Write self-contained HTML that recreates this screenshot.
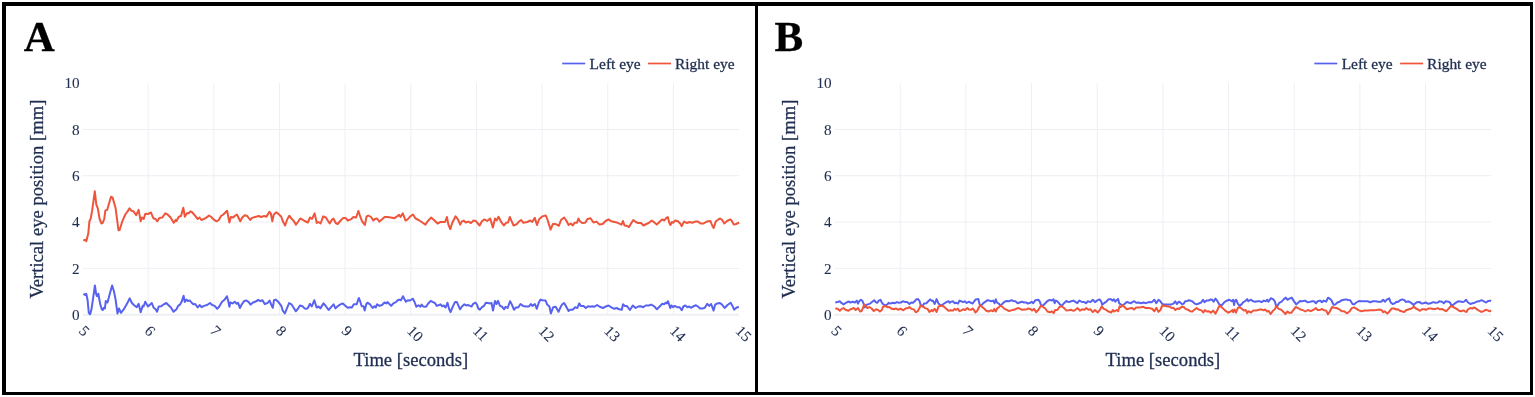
<!DOCTYPE html>
<html><head><meta charset="utf-8"><title>Vertical eye position</title>
<style>
html,body{margin:0;padding:0;background:#fff;}
body{width:1535px;height:397px;overflow:hidden;position:relative;}
#w{position:absolute;left:0;top:0;width:1535px;height:397px;filter:blur(0.3px);}
svg{position:absolute;left:0;top:0;font-family:'Liberation Serif','Times New Roman',serif;}
text{stroke:#1f2d50;stroke-width:0.3px;}
.t text{stroke-width:0.1px;}
.L{stroke:#000;stroke-width:0.3px;}
.b{position:absolute;background:#000;}
</style></head><body>
<div id="w">
<svg width="1535" height="397" viewBox="0 0 1535 397">
<g stroke="#EDEFF3" stroke-width="1"><line x1="148.16" y1="83.10" x2="148.16" y2="314.70"/><line x1="213.82" y1="83.10" x2="213.82" y2="314.70"/><line x1="279.48" y1="83.10" x2="279.48" y2="314.70"/><line x1="345.14" y1="83.10" x2="345.14" y2="314.70"/><line x1="410.80" y1="83.10" x2="410.80" y2="314.70"/><line x1="476.46" y1="83.10" x2="476.46" y2="314.70"/><line x1="542.12" y1="83.10" x2="542.12" y2="314.70"/><line x1="607.78" y1="83.10" x2="607.78" y2="314.70"/><line x1="673.44" y1="83.10" x2="673.44" y2="314.70"/><line x1="82.50" y1="268.38" x2="739.10" y2="268.38"/><line x1="82.50" y1="222.06" x2="739.10" y2="222.06"/><line x1="82.50" y1="175.74" x2="739.10" y2="175.74"/><line x1="82.50" y1="129.42" x2="739.10" y2="129.42"/></g>
<line x1="82.50" y1="314.70" x2="739.10" y2="314.70" stroke="#EDEFF3" stroke-width="2"/>
<path d="M83.5,293.7 L85.0,294.9 L86.3,293.9 L87.6,300.2 L88.8,312.8 L90.1,314.3 L91.3,310.3 L93.2,297.7 L94.9,285.4 L96.1,293.9 L97.0,296.2 L98.3,293.7 L100.2,304.0 L101.7,309.0 L102.7,310.0 L103.9,307.8 L104.9,308.4 L105.8,300.9 L107.5,302.5 L109.6,294.6 L112.1,285.4 L113.8,290.8 L115.5,299.0 L117.5,313.5 L119.0,308.4 L120.9,312.8 L123.5,309.7 L126.0,305.5 L127.9,302.1 L129.7,298.3 L131.9,303.0 L134.2,305.3 L136.7,307.2 L138.6,303.8 L140.7,312.2 L142.7,305.9 L143.6,306.5 L145.2,301.7 L148.0,306.5 L151.8,303.0 L153.7,307.8 L155.6,309.3 L157.1,311.6 L158.7,306.5 L161.2,306.3 L163.8,304.3 L166.3,303.0 L168.8,305.5 L170.7,307.2 L173.5,311.6 L176.5,309.3 L178.1,305.9 L180.0,304.6 L181.5,302.1 L183.6,295.8 L184.8,302.1 L186.3,299.6 L187.8,300.9 L189.9,300.5 L191.4,302.5 L193.3,304.3 L195.2,304.0 L197.7,307.5 L199.6,305.0 L201.7,307.2 L204.0,305.9 L207.1,305.0 L210.0,303.0 L212.2,305.0 L214.7,305.9 L217.2,308.8 L219.1,306.8 L221.9,302.1 L224.7,299.6 L226.9,296.2 L228.1,300.2 L229.4,306.8 L230.4,302.5 L232.7,303.4 L234.8,301.7 L236.7,303.8 L238.0,302.7 L239.9,308.0 L241.8,304.3 L244.3,300.9 L246.5,300.5 L248.7,302.1 L250.6,304.6 L253.1,302.5 L255.6,301.5 L258.4,300.0 L260.6,301.2 L262.5,300.2 L264.7,304.0 L267.6,303.0 L269.5,300.5 L271.5,305.3 L272.8,307.8 L274.0,300.2 L275.7,299.6 L277.6,301.2 L279.8,303.8 L281.3,305.9 L282.6,310.3 L284.9,313.5 L286.4,309.7 L289.1,303.0 L291.4,304.3 L293.3,307.2 L295.8,311.3 L297.7,309.0 L300.0,305.5 L302.5,306.3 L304.6,308.4 L306.8,308.8 L308.0,307.8 L310.0,303.8 L311.8,306.5 L314.3,300.2 L316.6,307.5 L318.5,306.5 L320.4,308.4 L323.5,303.4 L325.4,305.5 L328.6,310.0 L331.1,307.2 L333.6,304.3 L335.5,308.4 L337.4,306.5 L339.9,304.6 L342.8,303.4 L345.6,305.9 L347.8,307.8 L350.0,307.2 L351.9,307.5 L353.8,304.3 L356.6,304.3 L358.8,298.0 L360.0,300.9 L361.7,306.3 L363.5,306.3 L364.7,310.6 L366.3,304.0 L367.5,302.7 L370.0,304.3 L372.6,308.0 L374.4,306.3 L375.7,307.5 L377.0,304.3 L379.5,305.9 L382.0,305.0 L384.5,302.5 L386.2,303.4 L387.7,302.1 L389.6,304.3 L391.2,305.9 L393.3,303.4 L395.9,302.1 L397.7,300.2 L399.3,299.6 L400.9,300.2 L403.0,296.2 L404.7,299.6 L405.9,301.7 L407.8,300.2 L410.1,300.5 L412.9,298.7 L414.4,301.7 L416.4,306.8 L418.5,305.3 L420.4,306.8 L421.7,304.6 L423.2,306.5 L426.1,306.8 L428.0,303.8 L430.7,300.9 L433.0,302.1 L434.9,303.0 L436.8,305.9 L439.1,305.0 L440.6,304.3 L442.1,306.3 L443.7,305.5 L445.6,307.5 L447.5,302.7 L449.1,309.0 L450.6,312.2 L452.5,307.2 L455.0,302.1 L456.9,302.1 L460.1,309.3 L461.9,306.5 L464.4,304.3 L466.3,305.5 L467.8,305.0 L470.1,305.9 L471.6,306.5 L473.2,303.8 L475.4,302.5 L477.0,304.6 L478.3,308.4 L479.9,309.7 L482.0,307.2 L483.9,305.9 L485.8,302.7 L488.0,303.0 L490.2,303.4 L491.5,303.0 L493.0,310.6 L495.0,300.9 L496.5,304.0 L498.0,300.9 L500.0,305.9 L502.2,306.8 L504.1,309.3 L505.6,306.8 L507.6,308.0 L510.1,301.2 L511.9,304.6 L513.9,309.7 L516.0,307.5 L518.2,307.5 L520.5,304.0 L523.0,305.9 L526.1,306.5 L529.0,306.5 L530.8,304.0 L532.4,305.9 L534.9,304.0 L536.8,308.8 L538.7,302.7 L540.6,299.6 L542.5,300.2 L545.6,300.5 L547.2,304.6 L549.4,306.5 L550.9,313.5 L553.2,307.2 L555.7,306.8 L558.5,311.8 L560.7,306.8 L562.3,304.3 L564.1,303.0 L566.3,306.8 L568.6,310.9 L570.1,309.7 L572.6,309.7 L575.2,307.2 L577.4,308.0 L579.2,303.4 L580.8,305.9 L583.3,305.9 L585.9,308.0 L588.0,306.3 L590.3,306.8 L592.2,306.3 L594.0,306.8 L597.2,305.0 L599.7,306.8 L602.9,308.0 L605.1,306.8 L608.5,305.5 L611.0,307.2 L614.2,308.8 L616.7,308.0 L619.2,309.3 L621.8,309.7 L623.0,304.3 L624.9,305.9 L626.8,305.9 L629.9,310.0 L632.8,305.5 L635.6,308.0 L638.1,306.5 L640.6,306.3 L643.2,307.2 L645.7,305.5 L648.8,305.5 L651.3,304.6 L654.4,306.5 L656.9,309.3 L659.4,306.8 L662.3,303.8 L664.1,304.3 L665.7,302.7 L667.0,303.4 L667.9,301.2 L668.9,303.8 L670.2,308.0 L671.4,305.5 L672.9,307.2 L674.6,305.9 L677.1,307.2 L679.6,307.2 L681.7,310.3 L683.4,306.5 L685.3,305.5 L687.5,307.2 L689.3,306.5 L690.9,307.8 L693.5,306.3 L696.0,305.3 L697.9,306.5 L700.1,308.4 L702.9,308.4 L704.8,307.8 L707.3,303.8 L709.2,305.9 L711.1,304.0 L712.3,307.2 L713.6,310.6 L715.2,304.6 L717.4,303.4 L719.9,303.0 L721.8,304.3 L724.6,308.0 L727.5,305.0 L730.6,302.7 L732.5,305.9 L734.1,309.7 L736.3,307.8 L738.8,306.8" fill="none" stroke="#5862f0" stroke-width="2" stroke-linejoin="round"/>
<path d="M83.3,240.6 L85.3,239.7 L86.3,241.2 L88.3,233.3 L89.4,221.3 L90.6,219.0 L92.1,210.7 L94.8,191.3 L96.3,204.6 L97.8,208.4 L99.6,219.0 L101.5,223.5 L102.7,222.8 L104.2,219.0 L105.4,210.4 L107.2,209.9 L108.7,204.6 L111.0,196.8 L112.5,197.4 L115.5,207.7 L118.5,230.3 L119.6,230.0 L122.3,221.3 L125.3,214.5 L127.6,211.4 L129.5,208.4 L131.4,210.7 L133.6,211.4 L136.2,215.2 L138.6,209.9 L140.7,221.3 L141.9,217.5 L143.7,219.0 L145.3,213.7 L148.0,214.0 L151.0,212.5 L153.3,218.2 L155.5,219.0 L157.3,221.3 L159.3,217.9 L162.3,217.5 L165.3,213.4 L167.6,214.5 L170.6,217.5 L173.7,222.8 L175.9,219.7 L176.5,221.0 L178.8,216.7 L181.0,216.0 L183.3,207.7 L184.8,216.7 L187.1,213.0 L188.6,213.4 L190.4,211.4 L192.4,212.5 L194.6,215.2 L197.7,219.0 L199.5,217.5 L201.4,220.0 L203.7,219.0 L206.0,217.9 L209.0,215.5 L211.3,217.0 L213.5,219.4 L216.5,221.3 L218.8,220.0 L221.0,216.0 L223.3,214.5 L227.1,210.7 L229.4,222.5 L230.9,217.0 L233.2,217.5 L234.7,216.0 L236.9,214.5 L238.4,217.5 L240.3,221.3 L242.2,217.5 L244.8,215.2 L247.2,216.0 L250.2,220.0 L252.0,217.9 L255.1,217.0 L258.8,216.0 L261.1,217.0 L264.1,216.0 L266.4,216.7 L269.4,211.9 L270.9,213.7 L272.3,221.3 L273.8,214.5 L276.3,212.2 L279.1,214.5 L281.3,216.7 L282.8,221.3 L285.1,225.5 L287.4,219.0 L289.3,215.7 L291.1,218.2 L293.4,220.5 L296.0,224.6 L297.9,222.0 L300.2,218.5 L302.5,219.7 L304.7,221.0 L307.8,222.5 L310.0,217.5 L312.0,219.0 L314.6,213.4 L316.8,223.0 L318.3,222.0 L320.6,223.5 L323.2,216.4 L325.9,217.5 L328.2,221.3 L329.7,223.5 L331.9,219.7 L333.4,218.5 L335.7,223.0 L337.7,224.0 L340.2,221.0 L343.3,217.9 L345.5,217.9 L347.8,220.5 L350.8,219.4 L353.4,217.0 L356.1,217.5 L358.4,211.0 L360.3,216.7 L362.1,221.3 L364.9,225.0 L366.5,216.7 L368.3,215.5 L371.0,217.0 L373.3,220.5 L374.8,219.0 L377.1,218.5 L379.4,221.6 L381.9,219.4 L384.6,217.0 L387.7,217.0 L390.7,217.5 L394.5,218.2 L396.7,216.7 L399.0,214.9 L400.5,217.0 L402.8,213.4 L405.5,220.5 L407.6,219.4 L410.3,216.4 L413.0,214.5 L415.6,218.5 L418.6,220.0 L421.6,222.0 L425.4,224.6 L427.7,221.3 L431.2,217.5 L434.5,220.5 L437.5,223.5 L440.5,222.0 L445.1,222.0 L446.9,217.0 L448.4,224.6 L450.3,229.1 L452.3,222.8 L455.6,216.3 L457.9,219.4 L460.2,224.6 L461.8,221.6 L463.8,220.6 L465.7,222.5 L468.3,221.6 L470.9,223.0 L473.6,220.5 L475.9,221.0 L477.4,223.0 L479.6,225.5 L481.9,221.3 L484.5,219.4 L487.2,221.0 L490.2,218.5 L492.9,227.6 L495.0,218.5 L496.6,220.5 L498.5,216.7 L500.8,221.3 L503.8,225.5 L506.1,222.8 L508.0,222.5 L509.8,217.0 L511.7,221.3 L513.6,225.5 L516.6,224.3 L518.9,221.6 L521.2,220.0 L523.4,222.8 L527.2,222.0 L530.2,220.5 L532.2,222.0 L534.8,217.9 L537.0,225.0 L539.3,219.0 L542.3,216.4 L545.8,215.5 L547.6,220.0 L550.6,229.6 L552.9,224.0 L555.2,224.0 L556.8,224.6 L558.8,225.8 L561.0,220.0 L564.1,217.5 L566.3,220.5 L568.6,225.0 L570.9,223.5 L572.8,225.5 L574.6,222.8 L576.9,222.8 L578.4,218.5 L579.9,221.3 L582.2,223.0 L585.2,222.8 L587.5,219.0 L590.5,218.2 L593.5,222.5 L596.5,221.6 L599.6,224.6 L602.6,224.0 L605.6,221.0 L608.6,219.4 L611.2,221.3 L614.7,222.0 L617.7,222.8 L621.5,224.6 L623.0,221.0 L624.5,225.5 L626.8,225.8 L629.0,227.0 L630.8,224.0 L633.2,220.0 L635.8,222.0 L638.1,223.0 L641.1,223.0 L643.4,225.5 L646.4,224.0 L648.7,223.0 L651.7,220.5 L653.8,222.0 L656.8,224.6 L659.4,222.0 L662.1,219.4 L664.4,220.5 L666.3,217.9 L667.8,217.0 L669.3,222.8 L670.4,225.0 L671.9,222.0 L673.4,222.8 L674.9,220.5 L677.9,221.3 L680.2,223.5 L681.7,226.1 L684.0,221.6 L687.0,223.0 L689.6,222.0 L692.3,222.8 L695.3,221.6 L698.0,221.6 L700.6,223.5 L703.6,223.5 L705.9,222.0 L708.2,221.3 L710.4,221.0 L712.2,225.5 L713.7,228.0 L715.7,221.6 L718.0,219.7 L720.2,218.5 L722.2,220.0 L724.3,223.5 L727.0,221.0 L730.1,219.4 L731.6,220.5 L733.8,224.6 L736.1,224.0 L739.1,222.5" fill="none" stroke="#EF553B" stroke-width="2" stroke-linejoin="round"/>
<g class="t" font-size="15.2" fill="#1f2d50"><text x="79.60" y="320.00" text-anchor="end">0</text><text x="79.60" y="273.68" text-anchor="end">2</text><text x="79.60" y="227.36" text-anchor="end">4</text><text x="79.60" y="181.04" text-anchor="end">6</text><text x="79.60" y="134.72" text-anchor="end">8</text><text x="79.60" y="88.40" text-anchor="end">10</text><text transform="translate(81.80,328.00) rotate(45)" dy="0.35em">5</text><text transform="translate(147.46,328.00) rotate(45)" dy="0.35em">6</text><text transform="translate(213.12,328.00) rotate(45)" dy="0.35em">7</text><text transform="translate(278.78,328.00) rotate(45)" dy="0.35em">8</text><text transform="translate(344.44,328.00) rotate(45)" dy="0.35em">9</text><text transform="translate(410.10,328.00) rotate(45)" dy="0.35em">10</text><text transform="translate(475.76,328.00) rotate(45)" dy="0.35em">11</text><text transform="translate(541.42,328.00) rotate(45)" dy="0.35em">12</text><text transform="translate(607.08,328.00) rotate(45)" dy="0.35em">13</text><text transform="translate(672.74,328.00) rotate(45)" dy="0.35em">14</text><text transform="translate(738.40,328.00) rotate(45)" dy="0.35em">15</text></g>
<text transform="translate(43.00,199.10) rotate(-90)" text-anchor="middle" font-size="18.63" fill="#1f2d50">Vertical eye position [mm]</text>
<text x="410.80" y="366.30" text-anchor="middle" font-size="18.63" fill="#1f2d50">Time [seconds]</text>
<line x1="562.20" y1="63.5" x2="585.20" y2="63.5" stroke="#5862f0" stroke-width="1.7"/>
<line x1="648.00" y1="63.5" x2="671.00" y2="63.5" stroke="#EF553B" stroke-width="1.7"/>
<g font-size="15.45" fill="#1f2d50"><text x="589.60" y="69.4">Left eye</text><text x="675.00" y="69.4">Right eye</text></g>
<text x="23.70" y="50.9" font-size="43" font-weight="bold" fill="#000" class="L">A</text>
<g stroke="#EDEFF3" stroke-width="1"><line x1="900.26" y1="83.10" x2="900.26" y2="314.70"/><line x1="965.92" y1="83.10" x2="965.92" y2="314.70"/><line x1="1031.58" y1="83.10" x2="1031.58" y2="314.70"/><line x1="1097.24" y1="83.10" x2="1097.24" y2="314.70"/><line x1="1162.90" y1="83.10" x2="1162.90" y2="314.70"/><line x1="1228.56" y1="83.10" x2="1228.56" y2="314.70"/><line x1="1294.22" y1="83.10" x2="1294.22" y2="314.70"/><line x1="1359.88" y1="83.10" x2="1359.88" y2="314.70"/><line x1="1425.54" y1="83.10" x2="1425.54" y2="314.70"/><line x1="834.60" y1="268.38" x2="1491.20" y2="268.38"/><line x1="834.60" y1="222.06" x2="1491.20" y2="222.06"/><line x1="834.60" y1="175.74" x2="1491.20" y2="175.74"/><line x1="834.60" y1="129.42" x2="1491.20" y2="129.42"/></g>
<line x1="834.60" y1="314.70" x2="1491.20" y2="314.70" stroke="#EDEFF3" stroke-width="2"/>
<path d="M835.3,302.5 L837.6,302.1 L839.8,301.3 L841.7,303.2 L843.6,304.4 L845.9,302.8 L848.5,301.5 L850.4,302.5 L852.7,301.7 L854.9,302.5 L856.8,300.6 L858.0,303.6 L859.1,301.3 L861.0,299.8 L862.5,301.0 L863.6,304.0 L864.8,307.4 L866.3,304.7 L867.8,304.4 L870.1,303.6 L872.3,301.7 L874.2,300.2 L875.7,302.1 L877.2,302.8 L878.8,300.6 L880.5,299.8 L881.4,301.7 L882.5,303.6 L884.0,304.7 L885.6,305.5 L887.4,304.4 L888.6,302.8 L890.5,303.6 L892.7,302.8 L895.0,303.2 L896.9,302.1 L898.8,302.8 L900.7,302.5 L902.9,301.3 L904.8,301.9 L907.1,302.1 L909.4,304.0 L911.3,302.5 L913.1,302.8 L914.7,301.3 L916.2,299.4 L918.1,299.1 L919.6,301.3 L920.7,305.1 L922.2,306.3 L924.1,303.6 L926.4,303.2 L928.3,301.3 L930.2,299.4 L931.7,300.9 L932.8,300.6 L934.7,304.0 L936.6,299.1 L938.5,303.6 L940.7,305.5 L943.4,304.0 L946.3,302.2 L948.5,301.2 L949.7,302.8 L951.2,301.7 L953.1,301.3 L954.6,303.2 L956.5,302.8 L958.0,303.6 L959.5,300.6 L961.0,301.2 L962.9,302.1 L964.8,301.3 L966.7,303.0 L969.0,301.7 L970.8,302.8 L972.7,303.5 L974.2,301.3 L975.7,299.4 L978.4,299.1 L979.5,304.0 L981.0,305.9 L983.3,303.2 L985.2,301.9 L987.1,300.2 L989.4,300.6 L991.2,301.2 L993.1,300.6 L994.6,303.2 L995.8,299.4 L996.9,302.5 L998.8,303.6 L1000.3,305.5 L1002.2,304.0 L1004.5,301.7 L1006.7,301.0 L1009.0,301.3 L1011.3,300.2 L1013.5,301.0 L1015.4,301.2 L1017.7,303.2 L1019.6,302.5 L1021.9,301.7 L1024.1,302.5 L1026.4,302.5 L1027.9,303.6 L1030.2,302.8 L1031.7,301.7 L1033.2,303.2 L1035.5,300.2 L1038.5,299.8 L1040.0,302.1 L1041.1,305.5 L1043.0,305.5 L1045.3,303.2 L1047.5,301.0 L1049.8,299.8 L1051.7,300.6 L1053.6,299.4 L1054.7,303.2 L1055.9,300.6 L1057.4,301.3 L1059.9,304.4 L1061.8,305.9 L1064.0,303.2 L1066.3,301.0 L1068.6,302.1 L1071.2,301.3 L1073.5,300.6 L1075.4,301.9 L1077.3,303.2 L1079.2,300.6 L1081.4,301.7 L1083.7,301.9 L1086.0,303.2 L1087.9,301.3 L1090.5,302.1 L1092.8,299.7 L1095.0,302.1 L1097.3,300.4 L1099.6,299.4 L1101.1,301.3 L1102.2,304.7 L1104.1,303.2 L1106.4,301.7 L1108.3,299.4 L1110.9,299.1 L1112.4,300.6 L1113.9,299.4 L1115.4,301.7 L1116.6,300.2 L1118.1,298.9 L1119.2,303.2 L1120.7,304.4 L1122.6,305.1 L1124.5,304.0 L1126.8,301.9 L1129.1,302.8 L1130.9,303.2 L1132.8,301.9 L1134.3,301.3 L1136.2,302.8 L1138.5,302.5 L1141.1,303.2 L1143.4,302.5 L1146.1,303.2 L1148.7,302.1 L1151.7,302.2 L1154.4,299.8 L1156.3,303.2 L1158.5,299.7 L1160.4,301.3 L1162.3,304.0 L1163.8,304.4 L1167.6,304.4 L1171.4,304.4 L1173.5,303.6 L1175.2,301.3 L1176.9,304.0 L1178.8,301.7 L1180.3,302.5 L1182.2,304.4 L1183.7,303.6 L1185.2,301.3 L1187.1,301.0 L1189.0,300.2 L1190.5,300.6 L1192.4,301.5 L1194.7,303.6 L1196.6,304.4 L1198.8,303.5 L1201.1,302.5 L1203.0,299.8 L1204.5,302.1 L1206.4,300.6 L1208.7,300.6 L1210.5,299.4 L1212.1,299.7 L1213.6,301.7 L1215.5,298.5 L1217.4,301.2 L1219.6,304.7 L1221.5,305.5 L1223.8,302.8 L1226.0,301.0 L1229.4,299.7 L1231.7,301.3 L1233.2,299.8 L1234.1,305.0 L1234.7,301.7 L1236.2,299.7 L1237.8,303.6 L1239.6,305.9 L1241.5,304.4 L1243.4,302.1 L1245.3,301.0 L1247.2,299.1 L1248.3,301.3 L1250.6,299.7 L1253.3,301.3 L1255.1,301.7 L1257.8,301.2 L1260.1,301.3 L1261.6,302.1 L1263.8,300.6 L1265.7,301.2 L1267.2,299.8 L1268.4,301.7 L1271.0,298.2 L1273.3,299.4 L1274.8,301.3 L1275.9,305.1 L1277.4,305.9 L1279.3,302.8 L1281.6,301.7 L1283.9,299.1 L1285.8,297.6 L1287.5,299.8 L1289.4,298.7 L1291.7,297.6 L1293.6,300.6 L1296.2,304.4 L1298.1,302.8 L1300.0,301.0 L1302.3,301.3 L1304.9,300.6 L1307.5,302.2 L1309.8,301.9 L1312.1,301.2 L1314.0,301.3 L1315.9,303.2 L1317.7,301.3 L1320.0,300.6 L1321.9,302.1 L1323.8,300.6 L1326.1,301.7 L1328.0,297.7 L1329.8,298.7 L1331.4,300.2 L1333.6,304.7 L1335.5,304.4 L1337.4,302.5 L1339.7,301.7 L1341.9,300.2 L1343.8,299.8 L1346.1,299.4 L1348.0,300.0 L1350.2,300.2 L1352.5,304.0 L1354.0,304.4 L1356.3,302.5 L1358.9,301.0 L1361.6,301.3 L1364.6,301.3 L1367.6,301.3 L1370.3,302.2 L1372.9,301.3 L1375.6,301.3 L1378.2,301.7 L1381.2,301.7 L1383.1,299.8 L1385.0,301.7 L1386.5,299.8 L1389.2,298.3 L1390.7,302.5 L1392.6,304.0 L1394.8,303.2 L1396.4,301.7 L1397.9,302.1 L1400.1,300.2 L1402.3,299.4 L1404.5,300.2 L1406.0,302.1 L1407.9,301.3 L1410.2,302.2 L1412.1,303.6 L1413.6,305.0 L1415.1,303.5 L1417.0,302.2 L1419.7,301.9 L1421.5,303.6 L1423.4,303.2 L1425.7,302.5 L1428.3,303.8 L1430.6,303.2 L1433.3,302.1 L1435.5,302.7 L1437.8,302.5 L1439.3,301.3 L1442.0,301.7 L1443.8,303.2 L1445.7,301.3 L1448.4,301.7 L1449.9,302.5 L1451.4,305.0 L1452.9,305.1 L1455.2,303.2 L1458.2,301.3 L1460.5,301.5 L1462.7,302.1 L1464.6,301.3 L1466.1,299.8 L1468.0,302.5 L1470.3,304.0 L1472.6,303.2 L1474.8,302.8 L1476.3,301.7 L1479.0,301.3 L1481.6,300.2 L1483.9,301.3 L1485.8,302.5 L1487.7,301.3 L1489.9,300.6 L1491.1,301.2" fill="none" stroke="#5862f0" stroke-width="2" stroke-linejoin="round"/>
<path d="M835.3,308.5 L837.6,308.7 L839.8,310.8 L841.7,308.9 L843.6,308.1 L845.5,309.7 L848.5,310.8 L850.4,309.3 L852.3,308.7 L853.8,308.0 L855.7,310.0 L858.0,308.1 L860.2,311.5 L861.7,310.8 L863.3,307.0 L864.4,304.4 L865.9,306.3 L867.4,308.1 L869.3,307.0 L871.6,308.5 L873.8,311.0 L876.1,309.3 L878.0,310.0 L879.9,311.5 L881.8,310.0 L882.9,307.0 L885.2,305.9 L887.4,307.2 L889.3,307.0 L891.2,308.5 L893.5,309.3 L895.8,308.5 L898.0,309.7 L900.7,308.7 L903.3,310.3 L905.6,308.5 L907.9,308.1 L909.4,307.0 L911.6,308.9 L913.9,309.5 L915.8,312.3 L917.7,311.2 L919.6,307.8 L920.7,305.5 L923.0,306.6 L925.2,308.1 L927.5,308.9 L929.4,311.9 L931.7,310.0 L932.8,311.2 L934.7,308.9 L936.6,311.9 L938.5,306.6 L940.7,305.5 L943.4,306.3 L946.3,308.7 L948.5,310.8 L950.8,310.3 L953.1,310.6 L954.6,308.9 L956.1,309.8 L958.0,308.7 L959.5,311.2 L961.4,310.3 L963.3,309.3 L965.2,310.0 L967.4,308.1 L968.9,309.5 L970.8,309.8 L972.7,308.5 L974.2,310.3 L975.4,312.5 L977.3,310.8 L979.1,307.0 L980.3,305.1 L982.2,307.0 L984.1,308.5 L986.3,310.8 L988.6,311.5 L990.9,310.3 L993.1,311.2 L994.3,308.9 L995.8,311.5 L997.3,308.1 L998.8,307.5 L1000.3,305.5 L1002.2,306.6 L1004.5,308.9 L1006.7,309.8 L1009.0,311.0 L1011.3,310.4 L1013.5,309.8 L1015.4,309.3 L1017.7,308.0 L1019.6,308.5 L1021.9,309.8 L1024.1,309.5 L1026.4,309.5 L1027.9,308.5 L1030.2,308.9 L1032.1,310.4 L1034.0,308.9 L1036.2,312.3 L1038.5,309.8 L1040.0,307.2 L1041.1,305.5 L1043.0,307.0 L1045.3,308.5 L1047.5,311.5 L1049.8,312.3 L1051.7,311.3 L1053.6,313.1 L1055.1,310.0 L1057.4,310.0 L1059.1,307.4 L1061.4,306.0 L1063.7,307.8 L1066.3,310.4 L1068.6,310.3 L1071.2,309.8 L1073.5,310.8 L1075.4,309.8 L1077.7,308.1 L1079.9,310.6 L1082.2,309.3 L1084.5,309.8 L1086.3,308.1 L1088.6,309.8 L1090.5,309.3 L1092.8,312.1 L1095.0,310.0 L1097.7,312.5 L1099.6,310.4 L1101.8,306.3 L1103.7,308.9 L1105.6,309.5 L1107.9,311.3 L1111.3,312.5 L1112.8,310.0 L1114.3,311.5 L1116.6,310.0 L1118.1,311.3 L1119.6,306.3 L1121.1,307.0 L1122.6,305.1 L1124.5,307.0 L1126.8,309.3 L1129.4,308.5 L1132.1,308.0 L1134.0,309.5 L1136.2,307.5 L1138.9,307.4 L1141.1,307.2 L1143.4,306.8 L1145.7,308.1 L1148.7,308.1 L1152.1,308.7 L1154.4,311.2 L1156.3,307.8 L1158.5,311.9 L1160.4,310.0 L1162.3,305.5 L1165.3,305.9 L1169.9,306.8 L1172.0,308.1 L1173.5,307.8 L1175.4,310.0 L1177.3,308.5 L1179.2,308.9 L1181.8,306.8 L1183.7,307.0 L1185.6,308.9 L1187.9,309.7 L1190.1,311.2 L1192.4,311.5 L1194.3,309.8 L1196.6,308.1 L1199.2,309.7 L1201.5,310.4 L1203.4,312.5 L1204.9,310.0 L1206.8,311.5 L1208.7,311.2 L1210.9,312.7 L1213.2,310.6 L1215.5,313.6 L1217.4,310.0 L1219.6,305.5 L1221.9,307.4 L1224.9,310.4 L1228.3,312.7 L1230.6,311.5 L1232.5,310.0 L1233.2,312.3 L1234.4,309.5 L1235.9,312.7 L1237.8,308.1 L1239.3,307.0 L1241.5,308.5 L1243.8,310.4 L1245.7,310.0 L1247.2,313.1 L1248.3,311.2 L1251.0,312.5 L1253.3,310.6 L1255.9,310.6 L1258.2,310.0 L1261.2,309.3 L1263.5,310.3 L1265.0,309.5 L1267.2,311.5 L1268.8,311.0 L1270.6,314.0 L1272.9,310.8 L1274.8,309.3 L1276.3,306.0 L1278.6,308.9 L1281.2,309.8 L1283.5,311.9 L1285.4,314.0 L1287.5,311.5 L1289.0,312.7 L1291.3,312.8 L1293.6,309.7 L1295.8,307.0 L1298.1,308.1 L1300.4,309.5 L1302.6,310.0 L1305.3,311.5 L1307.9,310.0 L1310.6,311.2 L1313.2,310.0 L1315.9,308.1 L1317.7,310.0 L1320.0,310.0 L1321.9,308.9 L1323.8,310.3 L1326.1,310.4 L1328.0,314.2 L1329.8,311.5 L1332.1,307.0 L1334.4,307.8 L1336.6,308.0 L1339.3,309.3 L1341.6,311.2 L1344.2,311.2 L1346.8,313.3 L1349.5,311.5 L1351.8,308.1 L1354.0,307.4 L1356.7,308.9 L1358.9,310.4 L1361.6,311.2 L1364.6,310.6 L1367.6,310.4 L1370.7,310.3 L1373.7,310.3 L1376.7,310.0 L1379.7,309.5 L1382.0,310.4 L1383.1,312.3 L1384.6,311.2 L1387.3,313.6 L1389.6,311.2 L1391.8,308.5 L1394.1,308.5 L1396.4,309.5 L1397.9,309.3 L1400.1,310.8 L1402.3,311.5 L1404.5,311.9 L1406.0,310.3 L1408.3,309.5 L1410.6,308.7 L1412.1,308.1 L1414.0,306.6 L1415.9,308.5 L1418.1,309.7 L1420.0,310.8 L1421.9,309.3 L1424.2,309.3 L1426.1,309.8 L1428.3,308.5 L1431.0,308.5 L1433.3,309.0 L1435.5,308.9 L1437.8,308.1 L1439.7,309.3 L1442.0,308.9 L1443.8,310.0 L1446.1,311.2 L1448.4,308.9 L1451.0,305.9 L1452.9,306.8 L1455.2,308.1 L1457.4,309.3 L1459.0,310.8 L1461.2,311.2 L1463.5,310.4 L1465.0,311.5 L1466.5,311.9 L1468.0,309.3 L1470.3,308.1 L1472.2,308.5 L1474.5,307.5 L1476.3,308.9 L1478.6,310.4 L1481.3,311.9 L1483.5,311.2 L1485.8,309.8 L1487.7,310.4 L1489.6,311.3 L1491.1,310.4" fill="none" stroke="#EF553B" stroke-width="2" stroke-linejoin="round"/>
<g class="t" font-size="15.2" fill="#1f2d50"><text x="831.70" y="320.00" text-anchor="end">0</text><text x="831.70" y="273.68" text-anchor="end">2</text><text x="831.70" y="227.36" text-anchor="end">4</text><text x="831.70" y="181.04" text-anchor="end">6</text><text x="831.70" y="134.72" text-anchor="end">8</text><text x="831.70" y="88.40" text-anchor="end">10</text><text transform="translate(833.90,328.00) rotate(45)" dy="0.35em">5</text><text transform="translate(899.56,328.00) rotate(45)" dy="0.35em">6</text><text transform="translate(965.22,328.00) rotate(45)" dy="0.35em">7</text><text transform="translate(1030.88,328.00) rotate(45)" dy="0.35em">8</text><text transform="translate(1096.54,328.00) rotate(45)" dy="0.35em">9</text><text transform="translate(1162.20,328.00) rotate(45)" dy="0.35em">10</text><text transform="translate(1227.86,328.00) rotate(45)" dy="0.35em">11</text><text transform="translate(1293.52,328.00) rotate(45)" dy="0.35em">12</text><text transform="translate(1359.18,328.00) rotate(45)" dy="0.35em">13</text><text transform="translate(1424.84,328.00) rotate(45)" dy="0.35em">14</text><text transform="translate(1490.50,328.00) rotate(45)" dy="0.35em">15</text></g>
<text transform="translate(795.10,199.10) rotate(-90)" text-anchor="middle" font-size="18.63" fill="#1f2d50">Vertical eye position [mm]</text>
<text x="1162.90" y="366.30" text-anchor="middle" font-size="18.63" fill="#1f2d50">Time [seconds]</text>
<line x1="1314.30" y1="63.5" x2="1337.30" y2="63.5" stroke="#5862f0" stroke-width="1.7"/>
<line x1="1400.10" y1="63.5" x2="1423.10" y2="63.5" stroke="#EF553B" stroke-width="1.7"/>
<g font-size="15.45" fill="#1f2d50"><text x="1341.70" y="69.4">Left eye</text><text x="1427.10" y="69.4">Right eye</text></g>
<text x="774.40" y="50.9" font-size="43" font-weight="bold" fill="#000" class="L">B</text>
</svg>
<div class="b" style="left:2px;top:2px;width:1531px;height:3.5px"></div>
<div class="b" style="left:2px;top:392px;width:1531px;height:3px"></div>
<div class="b" style="left:2px;top:2px;width:3.5px;height:393px"></div>
<div class="b" style="left:1530px;top:2px;width:3px;height:393px"></div>
<div class="b" style="left:755px;top:2px;width:3px;height:393px"></div>
</div>
</body></html>
